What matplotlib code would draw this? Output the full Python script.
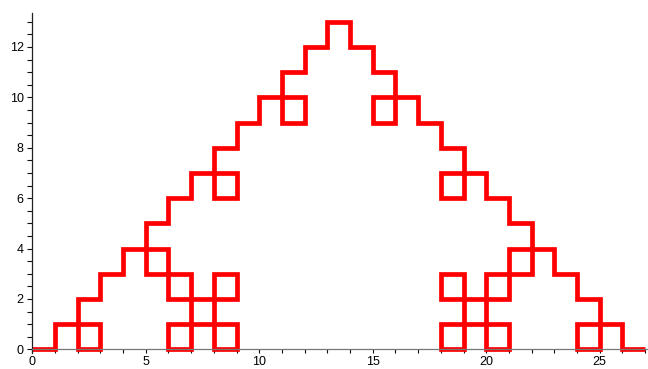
import matplotlib
matplotlib.use("Agg")
import matplotlib.pyplot as plt
from matplotlib.ticker import MultipleLocator

# Path vertices (lattice walk)
path_x = [0, 1, 1, 3, 3, 2, 2, 3, 3, 4, 4, 6, 6, 9, 9, 8, 8, 9, 9, 6, 6, 7, 7, 5, 5,
          6, 6, 7, 7, 9, 9, 8, 8, 9, 9, 10, 10, 12, 12, 11, 11, 12, 12, 13, 13,
          14, 14, 15, 15, 16, 16, 15, 15, 17, 17, 18, 18, 19, 19, 18, 18, 20, 20,
          21, 21, 22, 22, 20, 20, 21, 21, 18, 18, 19, 19, 18, 18, 21, 21, 23, 23,
          24, 24, 25, 25, 24, 24, 26, 26, 27]
path_y = [0, 0, 1, 1, 0, 0, 2, 2, 3, 3, 4, 4, 2, 2, 3, 3, 0, 0, 1, 1, 0, 0, 3, 3, 5,
          5, 6, 6, 7, 7, 6, 6, 8, 8, 9, 9, 10, 10, 9, 9, 11, 11, 12, 12, 13,
          13, 12, 12, 11, 11, 9, 9, 10, 10, 9, 9, 8, 8, 6, 6, 7, 7, 6,
          6, 5, 5, 3, 3, 0, 0, 1, 1, 0, 0, 3, 3, 2, 2, 4, 4, 3,
          3, 2, 2, 0, 0, 1, 1, 0, 0]

x_major = [0, 5, 10, 15, 20, 25]
y_major = [0, 2, 4, 6, 8, 10, 12]

plt.rcParams['font.family'] = ['Liberation Sans', 'DejaVu Sans']

fig = plt.figure(figsize=(6.48, 3.69), dpi=100)
ax = fig.add_axes([0.0498, 0.0431, 0.9493, 0.922])

ax.plot(path_x, path_y, color='#ff0000', lw=3.4, solid_joinstyle='miter',
        solid_capstyle='butt', zorder=2, clip_on=False)

ax.set_xlim(0, 27.1)
ax.set_ylim(-0.15, 13.35)

ax.spines['top'].set_visible(False)
ax.spines['right'].set_visible(False)
ax.spines['left'].set_position(('data', 0))
ax.spines['bottom'].set_position(('data', 0))
ax.spines['left'].set_color('#222222')
ax.spines['bottom'].set_color('#777777')
ax.spines['left'].set_linewidth(0.9)
ax.spines['bottom'].set_linewidth(0.9)
ax.spines['left'].set_zorder(3)
ax.spines['bottom'].set_zorder(3)

ax.set_xticks(x_major)
ax.set_yticks(y_major)
ax.xaxis.set_minor_locator(MultipleLocator(1))
ax.yaxis.set_minor_locator(MultipleLocator(0.5))

ax.tick_params(axis='x', which='both', direction='out', length=3, width=0.8,
               color='#111111', labelsize=9, pad=1.5)
ax.tick_params(axis='y', which='both', direction='out', length=3.6, width=0.8,
               color='#111111', labelsize=9, pad=2.5)

fig.savefig('out.png', dpi=100)
